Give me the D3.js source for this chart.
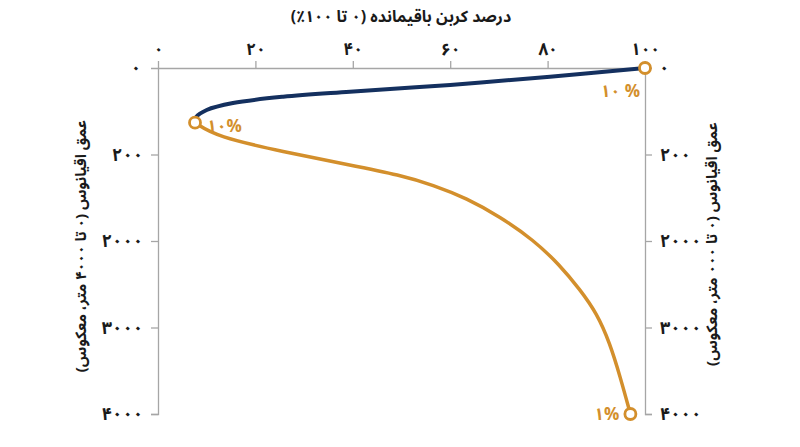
<!DOCTYPE html>
<html><head><meta charset="utf-8">
<script src="https://cdn.jsdelivr.net/npm/d3@7/dist/d3.min.js"></script>
<style>body{margin:0;background:#fff}svg{display:block}text{font-family:"Noto Sans Arabic","Noto Naskh Arabic","Vazirmatn","DejaVu Sans",sans-serif;font-weight:bold}</style>
</head><body><svg id="c" width="800" height="447"></svg>
<script>
const title = "درصد کربن باقیمانده (۰ تا ۱۰۰٪)";
const leftTitle = "عمق اقیانوس (۰ تا ۴۰۰۰ متر، معکوس)";
const rightTitle = "عمق اقیانوس (۰ تا ۰۰۰ متر، معکوس)";
const xTicks = [0, 20, 40, 60, 80, 100];
const xTickLabels = ["۰", "۲۰", "۴۰", "۶۰", "۸۰", "۱۰۰"];
const yTicks = [0, 1000, 2000, 3000, 4000];
const yTickLabels = ["۰", "۲۰۰", "۲۰۰۰", "۳۰۰۰", "۴۰۰۰"];
// navy: surface drop (percent, depth)
const navyPct   = [100, 80.5, 60, 39.4, 25.7, 15.4, 10, 7.9, 7.6];
const navyDepth = [0, 100, 196, 274, 332, 405, 485, 563, 632];
// orange: recovery with depth
const orangePct   = [7.6, 12, 25.7, 39.4, 49.7, 56.5, 63.4, 70.2, 77.1, 82.5, 86.7, 90.1, 92.8, 94.9, 97.0];
const orangeDepth = [632, 794, 968, 1121, 1237, 1353, 1506, 1719, 1988, 2277, 2566, 2836, 3183, 3569, 4000];
const markerPct = [100, 7.6, 97.0];
const markerDepth = [0, 632, 4000];
const markerLabels = ["۱۰ %", "۱۰%", "۱%"];

const svg = d3.select("#c");
const x = d3.scaleLinear().domain([0, 100]).range([158, 645]);
const y = d3.scaleLinear().domain([0, 4000]).range([68, 414]);
const grey = "#a6a6a6", navy = "#14305f", orange = "#d38f2c";

const gTop = svg.append("g").attr("transform", `translate(0,${y(0)})`)
  .call(d3.axisTop(x).tickValues(xTicks).tickFormat((d,i)=>xTickLabels[i]).tickSize(7).tickPadding(6));
const gLeft = svg.append("g").attr("transform", `translate(${x(0)},0)`)
  .call(d3.axisLeft(y).tickValues(yTicks).tickFormat((d,i)=>yTickLabels[i]).tickSize(7).tickPadding(8));
const gRight = svg.append("g").attr("transform", `translate(${x(100)},0)`)
  .call(d3.axisRight(y).tickValues(yTicks).tickFormat((d,i)=>yTickLabels[i]).tickSize(7).tickPadding(8));
[gTop, gLeft, gRight].forEach(g => {
  g.attr("font-family", null).attr("font-size", null);
  g.selectAll("path.domain").attr("stroke", grey).attr("stroke-width", 1.3);
  g.selectAll(".tick line").attr("stroke", grey).attr("stroke-width", 1.3);
  g.selectAll(".tick text").attr("fill", "#1a1a1a").style("font-size", "18px");
});
gTop.selectAll(".tick text").style("font-size", "17px");
gTop.selectAll(".tick line").filter(d => d === 0 || d === 100).remove();
gLeft.selectAll(".tick line").filter(d => d === 0).remove();
gRight.selectAll(".tick line").filter(d => d === 0).remove();
gRight.selectAll(".tick text").filter(d => d === 0).attr("x", 14);
gLeft.selectAll(".tick text").filter(d => d === 0).attr("x", -17);

svg.append("text").attr("x", 401).attr("y", 22).attr("text-anchor", "middle").attr("direction", "rtl")
  .style("font-size", "16px").attr("fill", "#1a1a1a").text(title);
svg.append("text").attr("transform", "translate(86,246) rotate(-90)").attr("text-anchor", "middle").attr("direction", "rtl")
  .style("font-size", "15px").attr("fill", "#1a1a1a").text(leftTitle);
svg.append("text").attr("transform", "translate(717,244) rotate(-90)").attr("text-anchor", "middle").attr("direction", "rtl")
  .style("font-size", "15px").attr("fill", "#1a1a1a").text(rightTitle);

const navyLine = d3.line().x(d => x(d[0])).y(d => y(d[1])).curve(d3.curveCatmullRom.alpha(0.5));
const orangeLine = d3.line().x(d => x(d[0])).y(d => y(d[1])).curve(d3.curveBasis);
svg.append("path").datum(navyPct.map((p,i)=>[p, navyDepth[i]]))
  .attr("d", navyLine).attr("fill", "none").attr("stroke", navy).attr("stroke-width", 4);
svg.append("path").datum(orangePct.map((p,i)=>[p, orangeDepth[i]]))
  .attr("d", orangeLine).attr("fill", "none").attr("stroke", orange).attr("stroke-width", 3.5);

svg.selectAll("circle.m").data(markerPct).join("circle").attr("class","m")
  .attr("cx", (d,i)=>x(d)).attr("cy", (d,i)=>y(markerDepth[i])).attr("r", 5.5)
  .attr("fill", "#fff").attr("stroke", orange).attr("stroke-width", 2.8);

const lblOff = [[-5, 29, "end"], [12, 9, "start"], [-11, 6, "end"]];
svg.selectAll("text.ml").data(markerLabels).join("text").attr("class","ml")
  .attr("x", (d,i)=>x(markerPct[i]) + lblOff[i][0]).attr("y", (d,i)=>y(markerDepth[i]) + lblOff[i][1])
  .attr("text-anchor", (d,i)=>lblOff[i][2]).attr("fill", orange).style("font-size", "17px").text(d=>d);
</script></body></html>
